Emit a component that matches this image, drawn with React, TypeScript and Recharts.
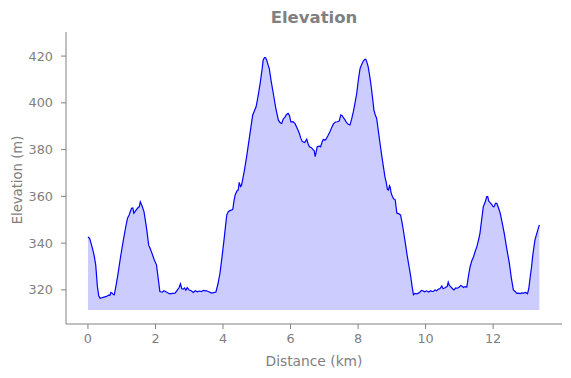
import React from "react";
import { Area, ComposedChart, Line, XAxis, YAxis } from "recharts";

// elevation profile
const distanceKm = [
  0.0, 0.05, 0.13, 0.18, 0.23, 0.28, 0.32, 0.36, 0.45, 0.55, 0.62, 0.65, 0.68, 0.72, 0.75, 0.78,
  0.84, 0.9, 0.97, 1.05, 1.12, 1.17, 1.22, 1.29, 1.33, 1.36, 1.42, 1.49, 1.52, 1.55, 1.6, 1.66,
  1.74, 1.8, 1.84, 1.9, 1.96, 2.03, 2.08, 2.13, 2.2, 2.25, 2.31, 2.36, 2.43, 2.5, 2.58, 2.64,
  2.7, 2.74, 2.78, 2.82, 2.86, 2.9, 2.94, 3.0, 3.06, 3.12, 3.18, 3.24, 3.3, 3.36, 3.42, 3.51,
  3.58, 3.66, 3.72, 3.79, 3.85, 3.91, 3.97, 4.03, 4.08, 4.11, 4.16, 4.21, 4.26, 4.29, 4.33, 4.36,
  4.42, 4.45, 4.48, 4.52, 4.55, 4.62, 4.7, 4.79, 4.88, 4.98, 5.04, 5.1, 5.15, 5.19, 5.23, 5.26,
  5.3, 5.34, 5.37, 5.43, 5.49, 5.56, 5.64, 5.7, 5.74, 5.78, 5.84, 5.88, 5.93, 5.97, 6.01, 6.07,
  6.13, 6.2, 6.26, 6.3, 6.35, 6.42, 6.48, 6.52, 6.56, 6.62, 6.66, 6.7, 6.73, 6.76, 6.79, 6.85,
  6.89, 6.93, 6.97, 7.01, 7.05, 7.11, 7.17, 7.22, 7.27, 7.33, 7.39, 7.44, 7.49, 7.53, 7.56, 7.61,
  7.66, 7.71, 7.76, 7.81, 7.86, 7.91, 7.96, 8.01, 8.06, 8.11, 8.16, 8.2, 8.23, 8.27, 8.3, 8.35,
  8.39, 8.43, 8.47, 8.51, 8.55, 8.6, 8.65, 8.7, 8.75, 8.8, 8.83, 8.87, 8.9, 8.93, 8.95, 8.98,
  9.0, 9.05, 9.1, 9.13, 9.15, 9.2, 9.26, 9.3, 9.34, 9.4, 9.46, 9.51, 9.56, 9.6, 9.64, 9.68,
  9.74, 9.79, 9.84, 9.88, 9.92, 9.97, 10.03, 10.09, 10.15, 10.19, 10.23, 10.28, 10.33, 10.38, 10.43, 10.48,
  10.52, 10.55, 10.59, 10.64, 10.67, 10.7, 10.74, 10.79, 10.84, 10.89, 10.94, 11.0, 11.04, 11.07, 11.12, 11.17,
  11.22, 11.27, 11.32, 11.37, 11.42, 11.47, 11.52, 11.57, 11.61, 11.66, 11.71, 11.77, 11.81, 11.84, 11.87, 11.91,
  11.96, 12.0, 12.03, 12.07, 12.11, 12.16, 12.21, 12.27, 12.33, 12.4, 12.48, 12.54, 12.6, 12.66, 12.7, 12.75,
  12.8, 12.85, 12.9, 12.96, 13.02, 13.06, 13.1, 13.14, 13.17, 13.21, 13.24, 13.3, 13.37,
];

const elevationM = [
  342.6, 342.0, 338.0, 335.0, 330.7, 321.4, 317.5, 316.4, 316.8, 317.2, 317.8, 317.6, 318.9, 318.6, 318.0, 317.9,
  322.5, 327.8, 334.5, 341.4, 347.0, 350.6, 352.0, 354.9, 355.0, 352.8, 354.0, 355.3, 355.5, 357.7, 356.0, 353.5,
  346.0, 339.0, 337.8, 335.5, 333.0, 330.7, 325.0, 319.3, 319.0, 319.6, 319.2, 318.8, 318.3, 318.5, 318.6, 319.8,
  321.0, 322.6, 320.5, 320.3, 320.8, 319.8, 321.0, 319.9, 319.6, 318.9, 319.6, 319.2, 319.5, 319.3, 319.8, 319.6,
  319.2, 318.6, 318.8, 319.1, 322.5, 327.1, 334.0, 341.4, 348.0, 352.0, 353.5, 353.9, 354.2, 354.4, 358.5, 360.6,
  362.5, 362.7, 366.0, 364.2, 364.8, 370.0, 377.0, 386.0, 394.8, 398.3, 403.0, 408.3, 413.5, 418.3, 419.4, 419.4,
  418.0, 416.0, 414.7, 409.0, 404.0, 398.0, 392.6, 391.4, 391.2, 393.0, 394.0, 395.0, 395.5, 394.5, 391.9, 392.0,
  391.2, 389.0, 387.0, 385.0, 383.4, 383.0, 384.4, 382.5, 381.2, 380.8, 380.1, 379.5, 377.0, 379.0, 381.2, 381.5,
  381.2, 383.0, 384.4, 384.0, 384.4, 386.0, 387.7, 389.5, 391.0, 391.8, 391.9, 392.2, 394.8, 394.5, 393.8, 392.8,
  391.5, 390.8, 390.5, 393.0, 396.2, 400.0, 404.0, 410.0, 414.7, 416.5, 418.0, 418.6, 418.6, 417.0, 415.4, 411.0,
  406.9, 402.0, 396.9, 394.8, 393.4, 388.0, 382.7, 377.5, 372.7, 368.0, 366.3, 363.0, 362.7, 364.5, 363.9, 361.5,
  360.6, 359.0, 358.5, 355.0, 352.8, 352.6, 352.0, 349.0, 345.6, 340.0, 334.2, 330.0, 325.7, 321.5, 317.9, 318.5,
  318.3, 318.6, 319.2, 319.8, 319.6, 319.2, 319.6, 319.1, 319.6, 319.3, 319.3, 320.0, 319.6, 320.3, 320.6, 321.7,
  320.5, 320.7, 321.0, 321.5, 323.3, 322.0, 321.4, 320.6, 320.0, 320.8, 320.7, 321.2, 321.9, 321.7, 321.0, 321.4,
  321.2, 326.0, 330.0, 332.5, 334.2, 336.5, 338.5, 341.5, 344.2, 350.0, 355.6, 357.8, 359.9, 359.9, 358.0, 357.3,
  356.5, 355.6, 355.6, 357.0, 357.0, 355.0, 352.8, 348.5, 344.2, 338.0, 331.4, 325.0, 320.0, 319.2, 318.5, 318.6,
  318.4, 318.7, 318.6, 318.9, 318.3, 321.0, 325.7, 330.0, 334.2, 338.5, 341.4, 344.5, 347.8,
];

const xTicks = [0, 2, 4, 6, 8, 10, 12];
const yTicks = [320, 340, 360, 380, 400, 420];

const GREY = "#808080";
const FONT = "'DejaVu Sans', sans-serif";

if (typeof document !== "undefined") document.body.style.margin = "0";

// fill_between goes down to a bit under the lowest point
const fillBase = Math.min(...elevationM) - 5;

const chartData = distanceKm.map((km, i) => ({ km, elev: elevationM[i] }));

function XLabel() {
  return (
    <text x={314} y={366} textAnchor="middle" fill={GREY} fontSize={13.8} fontFamily={FONT}>
      Distance (km)
    </text>
  );
}

function YLabel() {
  return (
    <text
      x={17}
      y={180}
      transform="rotate(-90 17 180)"
      textAnchor="middle"
      dominantBaseline="central"
      fill={GREY}
      fontSize={13.2}
      fontFamily={FONT}
    >
      Elevation (m)
    </text>
  );
}

export default function App() {
  return (
    <div style={{ position: "relative", width: 571, height: 378, background: "#fff", fontFamily: FONT }}>
      <div
        style={{
          position: "absolute",
          left: 0,
          top: 8,
          width: 628,
          textAlign: "center",
          fontSize: 16.5,
          fontWeight: "bold",
          color: GREY,
          lineHeight: "20px",
        }}
      >
        Elevation
      </div>
      <ComposedChart
        width={571}
        height={378}
        data={chartData}
        margin={{ top: 32, right: 9, bottom: 10, left: 0 }}
      >
        <XAxis
          dataKey="km"
          type="number"
          domain={[-0.65, 14.04]}
          ticks={xTicks}
          allowDataOverflow
          height={44}
          stroke={GREY}
          tickSize={5}
          tickMargin={5}
          tick={{ fill: GREY, fontSize: 12.8, fontFamily: FONT }}
          label={<XLabel />}
        />
        <YAxis
          type="number"
          domain={[305.4, 430.3]}
          ticks={yTicks}
          allowDataOverflow
          width={66}
          stroke={GREY}
          tickSize={5}
          tickMargin={8}
          tick={{ fill: GREY, fontSize: 12.8, fontFamily: FONT }}
          label={<YLabel />}
        />
        <Area
          dataKey="elev"
          type="linear"
          baseValue={fillBase}
          fill="#0000ff"
          fillOpacity={0.2}
          stroke="none"
          isAnimationActive={false}
        />
        <Line
          dataKey="elev"
          type="linear"
          stroke="#0000ff"
          strokeWidth={1.2}
          dot={false}
          activeDot={false}
          isAnimationActive={false}
        />
      </ComposedChart>
    </div>
  );
}
